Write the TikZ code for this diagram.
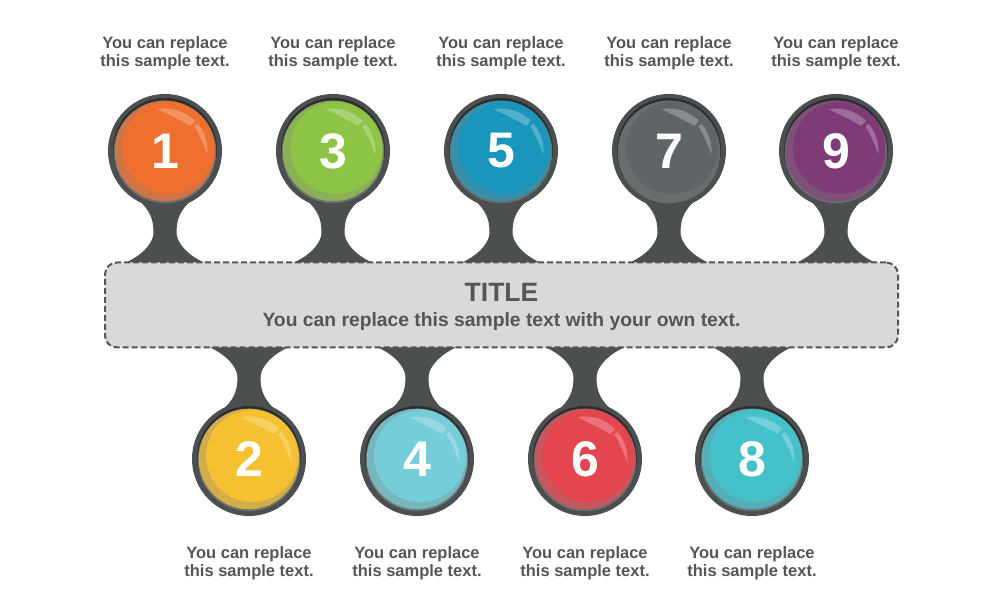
\documentclass[tikz,border=0pt]{standalone}
\usepackage{fontspec}
\setmainfont{Liberation Sans}
\definecolor{ring}{HTML}{4B4F50}
\definecolor{ringdark}{HTML}{2C2E2F}
\definecolor{ringlight}{HTML}{6B6E6F}
\definecolor{txt}{HTML}{555555}
\definecolor{boxfill}{HTML}{D9D9D9}
\definecolor{c1}{HTML}{EF6F2E}
\definecolor{c2}{HTML}{F5C132}
\definecolor{c3}{HTML}{8DC446}
\definecolor{c4}{HTML}{74CDD8}
\definecolor{c5}{HTML}{1A95BB}
\definecolor{c6}{HTML}{E4464F}
\definecolor{c7}{HTML}{5F6566}
\definecolor{c8}{HTML}{45C1CC}
\definecolor{c9}{HTML}{7E3B77}
\newcommand\mkneck{%
  \fill[ring] (-42,-114) -- (-40,-112)
      .. controls (-20,-103) and (-11.5,-90) .. (-11.5,-82)
      .. controls (-11.5,-72) and (-13,-62) .. (-24,-51.5)
      -- (-10,-30) -- (10,-30) -- (24,-51.5)
      .. controls (13,-62) and (11.5,-72) .. (11.5,-82)
      .. controls (11.5,-90) and (20,-103) .. (40,-112)
      -- (42,-114) -- cycle;}
\begin{document}
\begin{tikzpicture}[x=1pt,y=1pt,
  numtext/.style={text=white,font=\fontsize{50}{50}\selectfont\bfseries,inner sep=0pt},
  labeltext/.style={text=txt,font=\fontsize{16.5}{18}\selectfont\bfseries,align=center,inner sep=0pt},
  titlebox/.style={draw=txt,fill=boxfill,line width=2pt,dash pattern=on 6pt off 3pt,rounded corners=12pt,minimum width=793pt,minimum height=85pt,inner sep=0pt},
  titletext/.style={text=txt,font=\fontsize{26.5}{26.5}\selectfont\bfseries,inner sep=0pt},
  subtext/.style={text=txt,font=\fontsize{19.3}{21}\selectfont\bfseries,inner sep=0pt},
  pics/ball/.style 2 args={code={
    \fill[ring] (0,0) circle[radius=57];
    \fill[ringdark] (0,1) circle[radius=52];
    \fill[ringlight] (0,-1) circle[radius=51.3];
    \fill[#1!70!gray] (0,0) circle[radius=50.3];
    \fill[#1] (3,3) circle[radius=46];
    \fill[white,opacity=.25] (100:42.5) arc[start angle=100,end angle=45,radius=42.5]
       -- (45:35.5) .. controls (70:35) and (90:38) .. (100:42.5) -- cycle;
    \fill[white,opacity=.25] (40:42.5) arc[start angle=40,end angle=-5,radius=42.5]
       .. controls (10:39.5) and (30:38) .. (40:38.5) -- cycle;
    \node[numtext] (-num) at (0,0) {#2};
  }}
]
\useasboundingbox (0,0) rectangle (1000,612);
\fill[white] (0,0) rectangle (1000,612);
% necks
\foreach \x in {165,333,501,669,836}{
  \begin{scope}[shift={(\x,461)}]
    \mkneck
  \end{scope}
}
\foreach \x in {249,417,585,752}{
  \begin{scope}[shift={(\x,153)},yscale=-1]
    \mkneck
  \end{scope}
}
% title box
\node[titlebox] (box) at (501.5,307) {};
\node[titletext] (title) at (501.5,320) {TITLE};
\node[subtext] (sub) at (501.5,290.5) {You can replace this sample text with your own text.};
% balls
\pic (b1) at (165,461) {ball={c1}{1}};
\pic (b3) at (333,461) {ball={c3}{3}};
\pic (b5) at (501,461) {ball={c5}{5}};
\pic (b7) at (669,461) {ball={c7}{7}};
\pic (b9) at (836,461) {ball={c9}{9}};
\pic (b2) at (249,153) {ball={c2}{2}};
\pic (b4) at (417,153) {ball={c4}{4}};
\pic (b6) at (585,153) {ball={c6}{6}};
\pic (b8) at (752,153) {ball={c8}{8}};
% labels
\foreach \x/\k in {165/1,333/3,501/5,669/7,836/9}{
  \node[labeltext] (t\k) at (\x,559) {You can replace\\this sample text.};
}
\foreach \x/\k in {249/2,417/4,585/6,752/8}{
  \node[labeltext] (t\k) at (\x,49) {You can replace\\this sample text.};
}
\end{tikzpicture}
\end{document}
